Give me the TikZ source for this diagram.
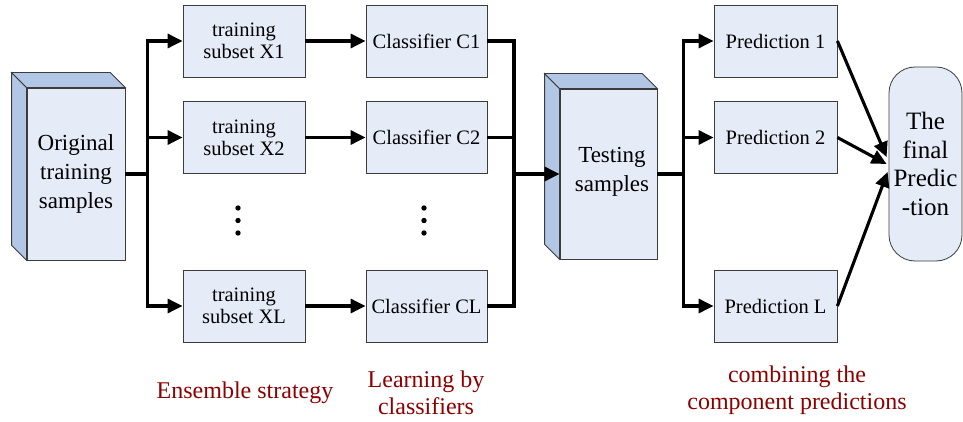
\documentclass[tikz,border=0pt]{standalone}
\usepackage{fontspec}
\setmainfont{Liberation Serif}
\usetikzlibrary{arrows.meta,calc}
\definecolor{facec}{RGB}{230,236,247}
\definecolor{sidec}{RGB}{178,198,230}
\definecolor{edgec}{RGB}{60,60,60}
\definecolor{labred}{RGB}{140,0,0}
\begin{document}
\begin{tikzpicture}[x=1pt,y=-1pt,
  box/.style={draw=edgec,line width=0.8pt,fill=facec,inner sep=0pt,align=center,
     font=\fontsize{20.5}{22}\selectfont},
  bigbox/.style={box,font=\fontsize{23}{29}\selectfont},
  conn/.style={line width=3.1pt},
  arr/.style={conn,-{Triangle[length=15pt,width=14pt]}},
  lab/.style={text=labred,align=center,font=\fontsize{24}{27}\selectfont}]
\useasboundingbox (0,0) rectangle (963,422);
% 3D box: original
\node[bigbox,minimum width=98pt,minimum height=172pt] (orig) at (76,174) {Original\\training\\samples};
\draw[draw=edgec,line width=0.8pt,fill=sidec] (orig.north west) -- ++(-15,-15) -- ($(orig.south west)+(-15,-15)$) -- (orig.south west) -- cycle;
\draw[draw=edgec,line width=0.8pt,fill=sidec] (orig.north west) -- ++(-15,-15) -- ($(orig.north east)+(-15,-15)$) -- (orig.north east) -- cycle;
% training subsets
\node[box,minimum width=122pt,minimum height=72pt] (x1) at (244,41) {training\\subset X1};
\node[box,minimum width=122pt,minimum height=72pt] (x2) at (244,137.5) {training\\subset X2};
\node[box,minimum width=122pt,minimum height=72pt] (xl) at (244,306) {training\\subset XL};
% classifiers
\node[box,minimum width=121pt,minimum height=72pt] (c1) at (426.5,41) {Classifier C1};
\node[box,minimum width=121pt,minimum height=72pt] (c2) at (426.5,137.5) {Classifier C2};
\node[box,minimum width=121pt,minimum height=72pt] (cl) at (426.5,306) {Classifier CL};
% dots
\foreach \yy [count=\i] in {208,220.5,233}{
  \fill (238,\yy) circle (2.7pt) coordinate (da\i);
  \fill (424,\yy) circle (2.7pt) coordinate (db\i);
}
% testing
\node[box,minimum width=97pt,minimum height=170pt] (test) at (608.5,174) {};
\node[font=\fontsize{23}{29}\selectfont,align=center,inner sep=0pt] (testtxt) at (612,172) {Testing\\samples};
\draw[draw=edgec,line width=0.8pt,fill=sidec] (test.north west) -- ++(-15,-15) -- ($(test.south west)+(-15,-15)$) -- (test.south west) -- cycle;
\draw[draw=edgec,line width=0.8pt,fill=sidec] (test.north west) -- ++(-15,-15) -- ($(test.north east)+(-15,-15)$) -- (test.north east) -- cycle;
% predictions
\node[box,minimum width=123pt,minimum height=72pt] (p1) at (775.5,41) {Prediction 1};
\node[box,minimum width=123pt,minimum height=72pt] (p2) at (775.5,137.5) {Prediction 2};
\node[box,minimum width=123pt,minimum height=72pt] (pl) at (775.5,306) {Prediction L};
% final
\node[box,rounded corners=26pt,minimum width=73pt,minimum height=194pt,font=\fontsize{25}{28.5}\selectfont] (fin) at (925.5,164) {The\\final\\Predic\\-tion};
% connectors left
\draw[conn] (orig.east) -- ++(22,0) coordinate (b1);
\draw[conn] ($(b1|-x1.west)+(0,-1.5)$) -- ($(b1|-xl.west)+(0,1.5)$);
\draw[arr] (b1|-x1.west) -- (x1.west);
\draw[arr] (b1|-x2.west) -- (x2.west);
\draw[arr] (b1|-xl.west) -- (xl.west);
\draw[arr] (x1.east) -- (c1.west);
\draw[arr] (x2.east) -- (c2.west);
\draw[arr] (xl.east) -- (cl.west);
% right bus
\coordinate (b2) at (514,174);
\draw[conn] (c1.east) -| (b2);
\draw[conn] (c2.east) -| (b2);
\draw[conn] (cl.east) -| (b2);
\draw[arr] (b2) -- (test.west);
% test bus
\draw[conn] (test.east) -- ++(26,0) coordinate (b3);
\draw[conn] ($(b3|-p1.west)+(0,-1.5)$) -- ($(b3|-pl.west)+(0,1.5)$);
\draw[arr] (b3|-p1.west) -- (p1.west);
\draw[arr] (b3|-p2.west) -- (p2.west);
\draw[arr] (b3|-pl.west) -- (pl.west);
% final arrows
\draw[arr] (p1.east) -- ($(fin.west)+(-2,-7)$);
\draw[arr] (p2.east) -- ($(fin.west)+(-2,0)$);
\draw[arr] (pl.east) -- ($(fin.west)+(-1,8)$);
% labels
\node[lab] (l1) at (245,393) {Ensemble strategy};
\node[lab] (l2) at (426,393) {Learning by\\classifiers};
\node[lab] (l3) at (797,390) {combining the\\component predictions};
\end{tikzpicture}
\end{document}
